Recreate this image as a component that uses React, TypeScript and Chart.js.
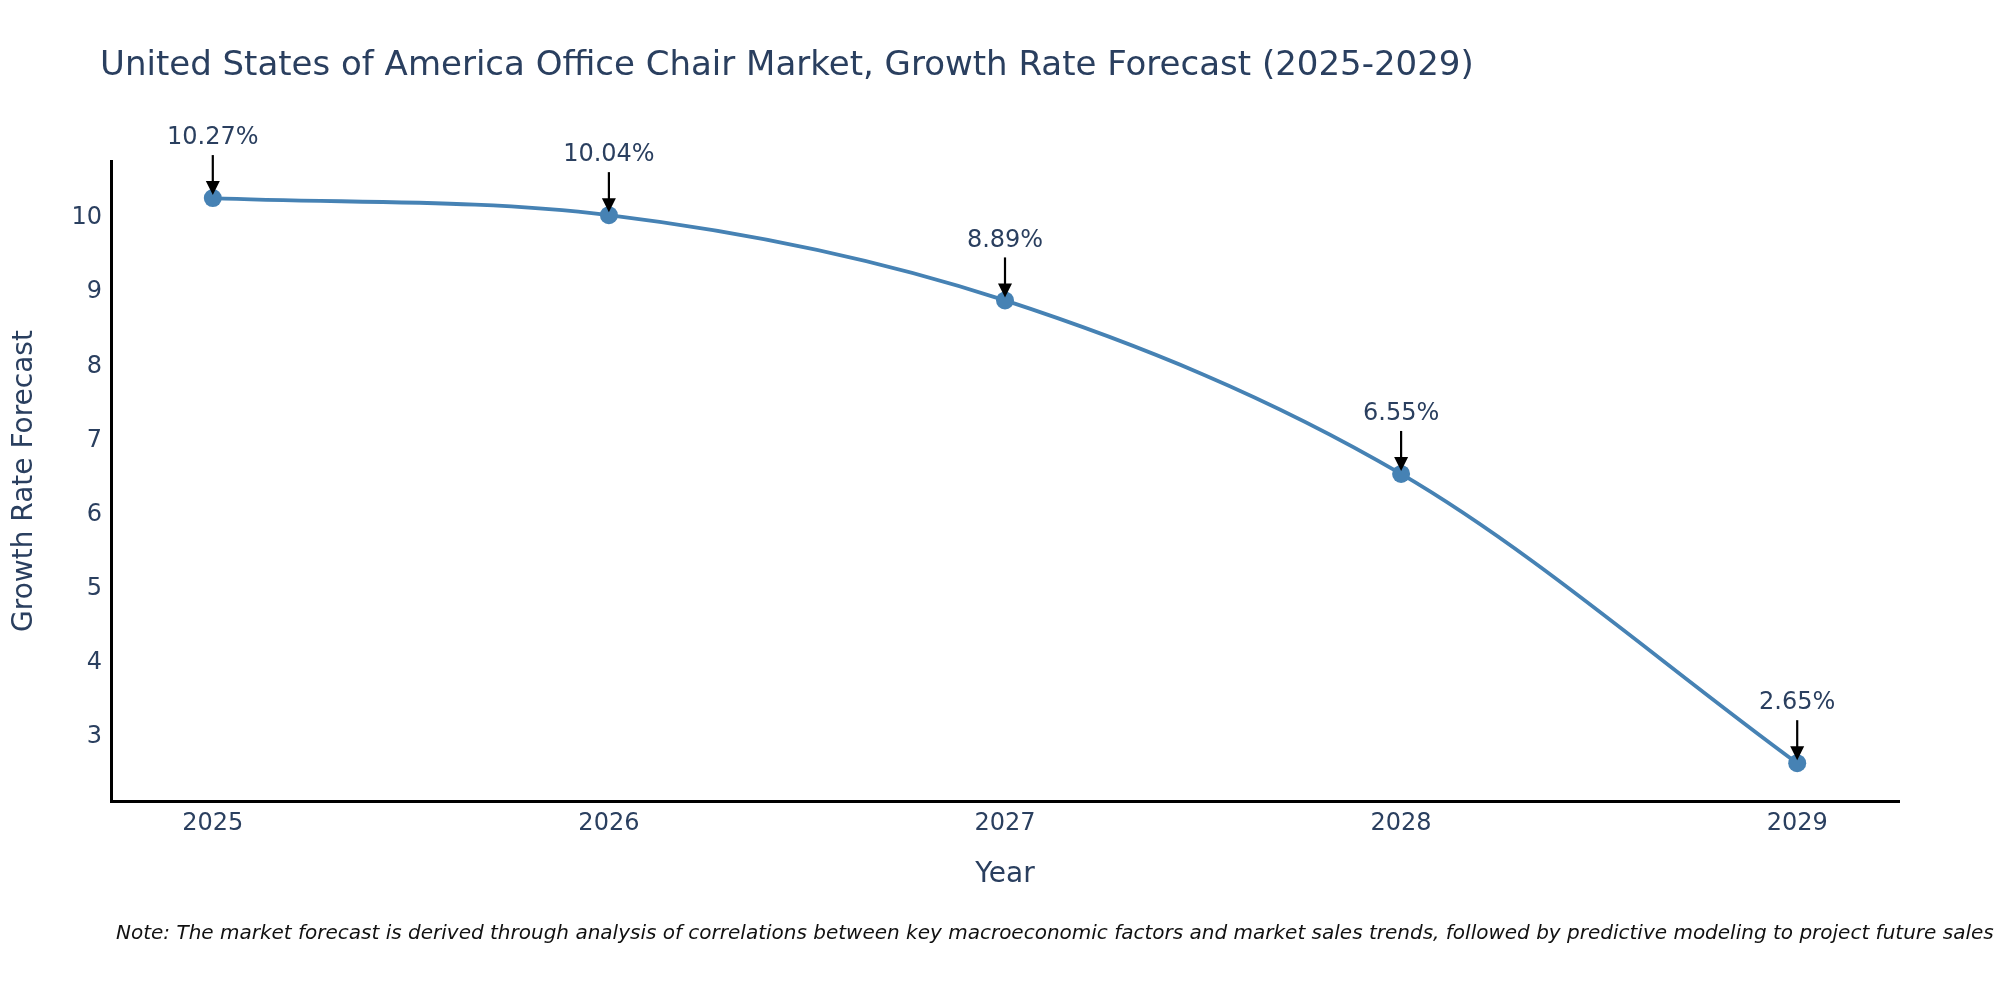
import React, { useEffect, useRef } from 'react';
import Chart from 'chart.js/auto';

const years = [2025, 2026, 2027, 2028, 2029];
const growthRates = [10.27, 10.04, 8.89, 6.55, 2.65];
const yTicks = [3, 4, 5, 6, 7, 8, 9, 10];

const TITLE = 'United States of America Office Chair Market, Growth Rate Forecast (2025-2029)';
const NOTE =
  'Note: The market forecast is derived through analysis of correlations between key macroeconomic factors and market sales trends, followed by predictive modeling to project future sales';

const FONT = '"DejaVu Sans", Verdana, sans-serif';
const TEXT_COLOR = '#2a3f5f';
const LINE_COLOR = '#4682b4';

// title, footnote and the arrow labels above each point
const decorPlugin = {
  id: 'decor',
  afterDatasetsDraw(chart: any) {
    const { ctx } = chart;
    const meta = chart.getDatasetMeta(0);
    ctx.save();

    meta.data.forEach((pt: any, i: number) => {
      const x = pt.x;
      const y = pt.y;
      ctx.fillStyle = TEXT_COLOR;
      ctx.font = `24px ${FONT}`;
      ctx.textAlign = 'center';
      ctx.textBaseline = 'middle';
      ctx.fillText(`${growthRates[i]}%`, x, y - 60);

      ctx.strokeStyle = '#000';
      ctx.lineWidth = 2.2;
      ctx.beginPath();
      ctx.moveTo(x, y - 43);
      ctx.lineTo(x, y - 16);
      ctx.stroke();

      ctx.fillStyle = '#000';
      ctx.beginPath();
      ctx.moveTo(x - 7, y - 17);
      ctx.lineTo(x + 7, y - 17);
      ctx.lineTo(x, y - 3);
      ctx.closePath();
      ctx.fill();
    });

    ctx.fillStyle = TEXT_COLOR;
    ctx.textAlign = 'left';
    ctx.textBaseline = 'middle';
    ctx.font = `34px ${FONT}`;
    ctx.fillText(TITLE, 100, 66);

    ctx.fillStyle = '#111';
    ctx.font = `italic 20px ${FONT}`;
    ctx.fillText(NOTE, 116, 934);
    ctx.restore();
  },
};

const App: React.FC = () => {
  const canvasRef = useRef<HTMLCanvasElement | null>(null);
  const chartRef = useRef<Chart | null>(null);

  useEffect(() => {
    document.body.style.margin = '0';
    if (!canvasRef.current) return;
    const ctx = canvasRef.current.getContext('2d');
    if (!ctx) return;

    if (chartRef.current) {
      chartRef.current.destroy();
      chartRef.current = null;
    }

    chartRef.current = new Chart(ctx, {
      type: 'line',
      data: {
        datasets: [
          {
            label: 'Growth Rate Forecast',
            data: years.map((yr, i) => ({ x: yr, y: growthRates[i] })),
            borderColor: LINE_COLOR,
            backgroundColor: LINE_COLOR,
            borderWidth: 3.8,
            pointRadius: 9,
            pointBorderWidth: 0,
            pointBackgroundColor: LINE_COLOR,
            cubicInterpolationMode: 'monotone',
            fill: false,
          },
        ],
      },
      options: {
        responsive: false,
        animation: false,
        devicePixelRatio: 1,
        layout: { padding: { top: 161, right: 101, left: 0, bottom: 0 } },
        plugins: {
          legend: { display: false },
          tooltip: { enabled: false },
        },
        scales: {
          x: {
            type: 'linear',
            min: 2024.743,
            max: 2029.257,
            afterFit: (s: any) => {
              s.height = 199;
            },
            afterBuildTicks: (s: any) => {
              s.ticks = years.map(v => ({ value: v }));
            },
            grid: { display: false, drawTicks: false },
            border: { display: true, color: '#000', width: 3 },
            ticks: {
              color: TEXT_COLOR,
              font: { family: FONT, size: 24 },
              padding: 8,
              callback: (v: any) => String(v),
            },
            title: {
              display: true,
              text: 'Year',
              color: TEXT_COLOR,
              font: { family: FONT, size: 28 },
              padding: { top: 0, bottom: 108 },
            },
          },
          y: {
            type: 'linear',
            min: 2.14,
            max: 10.77,
            afterFit: (s: any) => {
              s.width = 111;
            },
            afterBuildTicks: (s: any) => {
              s.ticks = yTicks.map(v => ({ value: v }));
            },
            grid: { display: false, drawTicks: false },
            border: { display: true, color: '#000', width: 3 },
            ticks: {
              color: TEXT_COLOR,
              font: { family: FONT, size: 24 },
              padding: 9,
            },
            title: {
              display: true,
              text: 'Growth Rate Forecast',
              color: TEXT_COLOR,
              font: { family: FONT, size: 28 },
              padding: { top: 8, bottom: 0 },
            },
          },
        },
      },
      plugins: [decorPlugin],
    });

    return () => {
      if (chartRef.current) {
        chartRef.current.destroy();
        chartRef.current = null;
      }
    };
  }, []);

  return (
    <div style={{ width: 2000, height: 1000, background: '#fff' }}>
      <canvas ref={canvasRef} width={2000} height={1000} style={{ width: 2000, height: 1000, display: 'block' }} />
    </div>
  );
};

export default App;
